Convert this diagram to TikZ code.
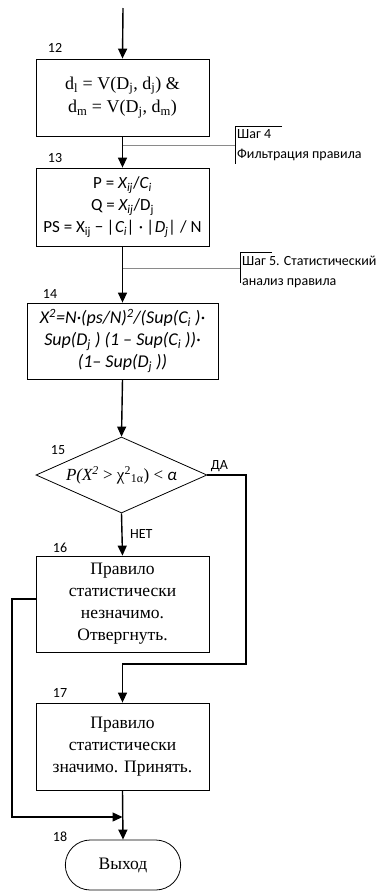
\documentclass[tikz,border=0pt]{standalone}
\usepackage{fontspec}
\setmainfont{Liberation Serif}
\newfontfamily\calfont{Carlito}
\usetikzlibrary{arrows.meta,positioning,shapes.geometric,shapes.misc}

\begin{document}
\begin{tikzpicture}[
    x=1pt, y=-1pt,
    every node/.style={font=\fontsize{17.5}{22}\selectfont},
    box/.style={draw, line width=0.8pt, minimum width=173pt, align=center, inner sep=2pt},
    flow/.style={line width=1.4pt, -{Triangle[length=10pt, width=9pt]}},
    numlab/.style={font=\calfont\fontsize{14}{16}\selectfont},
    steplab/.style={font=\calfont\fontsize{14}{20}\selectfont, align=left, anchor=west, inner xsep=2pt},
  ]
    \definecolor{noteline}{HTML}{8a8a8a}
    \useasboundingbox (0,0) rectangle (376,892);

    % ============ blocks ============
    \coordinate (start) at (123,8);
    \node[box, minimum height=77pt, font=\fontsize{18}{23.5}\selectfont] (b12) at (122.5,97.5)
      {d\textsubscript{l} = V(D\textsubscript{j}, d\textsubscript{j}) \&\\
       d\textsubscript{m} = V(D\textsubscript{j}, d\textsubscript{m})};
    \node[box, minimum height=78pt, font=\calfont\fontsize{17}{22}\selectfont] (b13) at (122.5,207)
      {P = \textit{X\textsubscript{ij}}/\textit{C\textsubscript{i}}\\
       Q = \textit{X\textsubscript{ij}}/D\textsubscript{j}\\
       PS = X\textsubscript{ij} − \textit{|C\textsubscript{i}|} · \textit{|D\textsubscript{j}|} / N};
    \node[box, minimum width=191pt, minimum height=76pt,
          font=\calfont\itshape\fontsize{18}{22}\selectfont] (b14) at (122.5,341)
      {X\textsuperscript{2}=N·(ps/N)\textsuperscript{2}/(Sup(C\textsubscript{i} )·\\
       Sup(D\textsubscript{j} ) (1 – Sup(C\textsubscript{i} ))·\\
       (1– Sup(D\textsubscript{j} ))};
    \node[draw, diamond, aspect=2.25, line width=0.8pt, minimum width=171pt,
          minimum height=76pt, inner sep=0pt, font=\fontsize{17}{20}\selectfont] (dec15) at (121.5,475)
      {\itshape P(X\textsuperscript{2} \upshape> χ\textsuperscript{2}\textsubscript{1α}) < {\calfont\itshape α}};
    \node[box, minimum height=96pt] (b16) at (122.5,604)
      {Правило\\ статистически\\ незначимо.\\ Отвергнуть.};
    \node[box, minimum height=87pt] (b17) at (122.5,746.5)
      {Правило\\ статистически\\ значимо. Принять.};
    \node[draw, rounded rectangle, line width=0.8pt, minimum width=122pt,
          minimum height=50pt] (exit18) at (123,865) {Выход};

    % ============ numbers ============
    \node[numlab] (n12) at (55,48) {12};
    \node[numlab] (n13) at (55,158) {13};
    \node[numlab] (n14) at (50,294) {14};
    \node[numlab] (n15) at (58,450) {15};
    \node[numlab] (n16) at (60,548) {16};
    \node[numlab] (n17) at (60,693) {17};
    \node[numlab] (n18) at (60,837) {18};

    % ============ step notes ============
    \node[steplab] (step4) at (235,145) {Шаг 4\\Фильтрация правила};
    \draw[line width=0.6pt] ([xshift=47pt]step4.north west) -- (step4.north west) -- (step4.south west);
    \draw[noteline, line width=0.6pt] (b12.south |- step4.west) -- (step4.west);

    \node[steplab] (step5) at (240,272) {Шаг 5. Статистический\\анализ правила};
    \draw[line width=0.6pt] ([xshift=32pt]step5.north west) -- (step5.north west) -- ([yshift=8pt]step5.south west);
    \coordinate (s5) at (240,268);
    \draw[noteline, line width=0.6pt] (b13.south |- s5) -- (s5);

    % ============ flow ============
    \draw[flow] (start) -- (b12.north);
    \draw[flow] (b12.south) -- (b13.north);
    \draw[flow] (b13.south) -- (b14.north);
    \draw[flow] (b14.south) -- (dec15.north);
    \draw[flow] (dec15.south) -- node[right, numlab, xshift=4pt] (no) {НЕТ} (b16.north);
    \node[numlab, anchor=south west] (yes) at (dec15.east) {ДА};
    \coordinate (yesturn) at (246,664);
    \draw[flow] (dec15.east) -| (yesturn) -| (b17.north);
    \coordinate (noturn) at (12,817);
    \draw[flow] ([yshift=5pt]b16.west) -| (noturn) -- (noturn -| b17.south);
    \draw[flow] (b17.south) -- (exit18.north);
\end{tikzpicture}
\end{document}
